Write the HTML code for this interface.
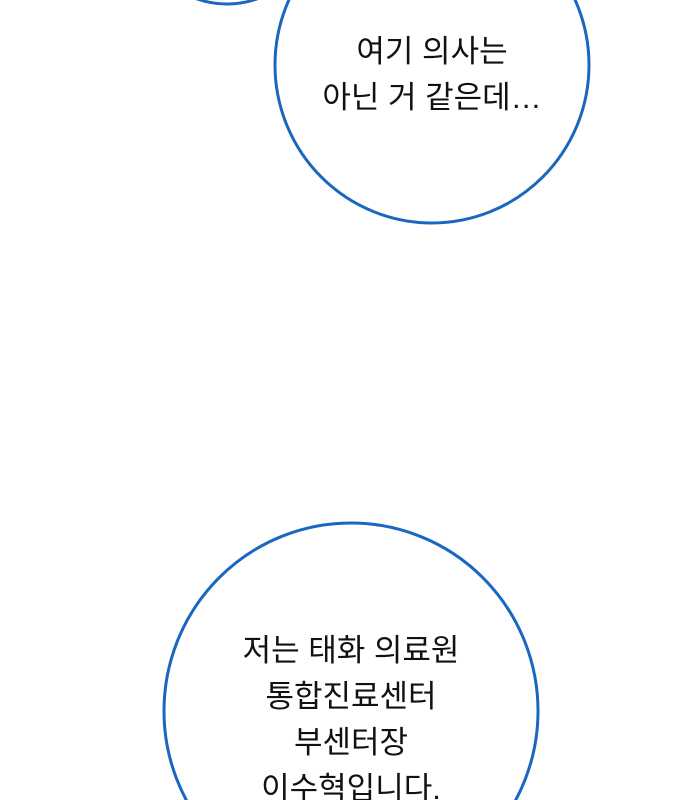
<!DOCTYPE html>
<html><head><meta charset="utf-8"><style>
html,body{margin:0;width:690px;height:800px;overflow:hidden}
body{background:#fff;position:relative;font-family:"Liberation Sans","Noto Sans CJK KR",sans-serif}
.t{position:absolute;text-align:center;font-size:31px;color:#111;line-height:46px;white-space:nowrap}
</style></head><body>
<svg width="690" height="800" style="position:absolute;left:0;top:0">
<g fill="#fff" stroke="#1a67c0" stroke-width="3">
<ellipse cx="227" cy="-85" rx="90" ry="89"/>
<ellipse cx="432" cy="65" rx="157" ry="158"/>
<ellipse cx="351" cy="711" rx="187" ry="188"/>
</g>
</svg>
<div class="t" style="left:282px;width:300px;top:29px">여기 의사는<br>아닌 거 같은데…</div>
<div class="t" style="left:201px;width:300px;top:628px;height:172px;overflow:hidden">저는 태화 의료원<br>통합진료센터<br>부센터장<br>이수혁입니다.</div>
</body></html>
